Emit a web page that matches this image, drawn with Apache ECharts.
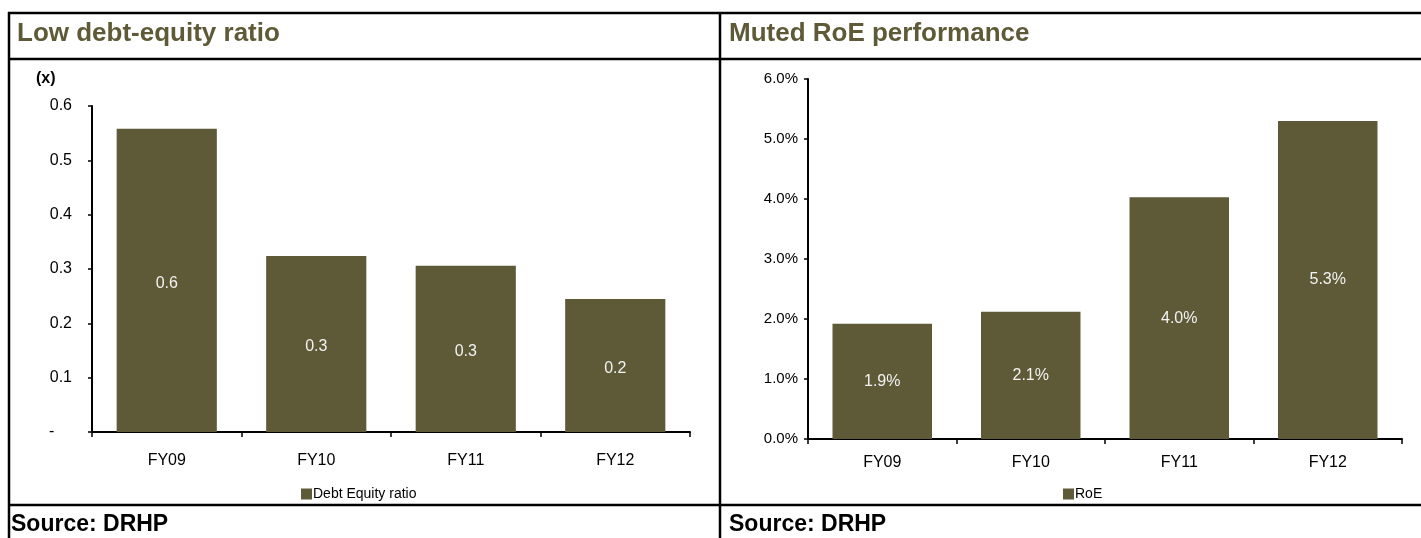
<!DOCTYPE html>
<html>
<head>
<meta charset="utf-8">
<script src="https://cdn.jsdelivr.net/npm/echarts@6/dist/echarts.min.js"></script>
<style>
html,body{margin:0;padding:0;background:#fff;}
#c{width:1421px;height:538px;}
</style>
</head>
<body>
<div id="c"></div>
<script>
const categories = ['FY09', 'FY10', 'FY11', 'FY12'];
const debtEquity = [0.558, 0.324, 0.306, 0.245];
const roe = [1.92, 2.12, 4.03, 5.30];
const leftTicks = { min: 0, max: 0.6, interval: 0.1 };
const rightTicks = { min: 0, max: 6, interval: 1 };

const BAR = '#5E5A37';
const FONT = 'Liberation Sans, Arial, sans-serif';
const chart = echarts.init(document.getElementById('c'));

const axisLine = { show: true, lineStyle: { color: '#000', width: 2 } };
const axisTick = { show: true, length: 4, lineStyle: { color: '#000', width: 1.5 } };

const line = (x1, y1, x2, y2) => ({
  type: 'line', silent: true,
  shape: { x1, y1, x2, y2 },
  style: { stroke: '#000', lineWidth: 2.5 }
});

chart.setOption({
  animation: false,
  textStyle: { fontFamily: FONT },
  grid: [
    { left: 92, top: 106, width: 598, height: 326 },
    { left: 808, top: 79, width: 594, height: 360 }
  ],
  legend: [
    { data: ['Debt Equity ratio'], left: 296, top: 482, icon: 'rect', itemWidth: 11, itemHeight: 11, itemGap: 0,
      textStyle: { fontSize: 14, color: '#000', padding: [0,0,0,-4], fontFamily: FONT } },
    { data: ['RoE'], left: 1058, top: 482, icon: 'rect', itemWidth: 11, itemHeight: 11, itemGap: 0,
      textStyle: { fontSize: 14, color: '#000', padding: [0,0,0,-4], fontFamily: FONT } }
  ],
  xAxis: [
    { type: 'category', gridIndex: 0, data: categories, axisLine, axisTick: { show: true, length: 5, lineStyle: { color: '#000', width: 1.5 } },
      axisLabel: { color: '#000', fontSize: 16, margin: 21, fontFamily: FONT } },
    { type: 'category', gridIndex: 1, data: categories, axisLine, axisTick: { show: true, length: 5, lineStyle: { color: '#000', width: 1.5 } },
      axisLabel: { color: '#000', fontSize: 16, margin: 16, fontFamily: FONT } }
  ],
  yAxis: [
    { type: 'value', gridIndex: 0, min: leftTicks.min, max: leftTicks.max, interval: leftTicks.interval,
      axisLine, axisTick, splitLine: { show: false },
      axisLabel: { color: '#000', fontSize: 16, margin: 20, fontFamily: FONT,
        formatter: v => v === 0 ? '-    ' : v.toFixed(1) } },
    { type: 'value', gridIndex: 1, min: rightTicks.min, max: rightTicks.max, interval: rightTicks.interval,
      axisLine, axisTick, splitLine: { show: false },
      axisLabel: { color: '#000', fontSize: 15, margin: 10, fontFamily: FONT,
        formatter: v => v.toFixed(1) + '%' } }
  ],
  series: [
    { name: 'Debt Equity ratio', type: 'bar', xAxisIndex: 0, yAxisIndex: 0, data: debtEquity,
      barCategoryGap: '33%', itemStyle: { color: BAR },
      label: { show: true, position: 'inside', offset: [0, 3], color: '#f2f2f2', fontSize: 16, fontFamily: FONT,
        formatter: p => p.value.toFixed(1) } },
    { name: 'RoE', type: 'bar', xAxisIndex: 1, yAxisIndex: 1, data: roe,
      barCategoryGap: '33%', itemStyle: { color: BAR },
      label: { show: true, position: 'inside', color: '#f2f2f2', fontSize: 16, fontFamily: FONT,
        formatter: p => p.value.toFixed(1) + '%' } }
  ],
  graphic: [
    line(8, 13, 1421, 13),
    line(8, 59, 1421, 59),
    line(8, 505, 1421, 505),
    line(9, 12, 9, 538),
    line(720, 12, 720, 538),
    { type: 'text', left: 17, top: 21, style: { text: 'Low debt-equity ratio', font: 'bold 26px ' + FONT, fill: BAR } },
    { type: 'text', left: 729, top: 21, style: { text: 'Muted RoE performance', font: 'bold 26px ' + FONT, fill: BAR } },
    { type: 'text', left: 36, top: 71, style: { text: '(x)', font: 'bold 16px ' + FONT, fill: '#000' } },
    { type: 'text', left: 11, top: 513, style: { text: 'Source: DRHP', font: 'bold 23px ' + FONT, fill: '#000' } },
    { type: 'text', left: 729, top: 513, style: { text: 'Source: DRHP', font: 'bold 23px ' + FONT, fill: '#000' } }
  ]
});
</script>
</body>
</html>
